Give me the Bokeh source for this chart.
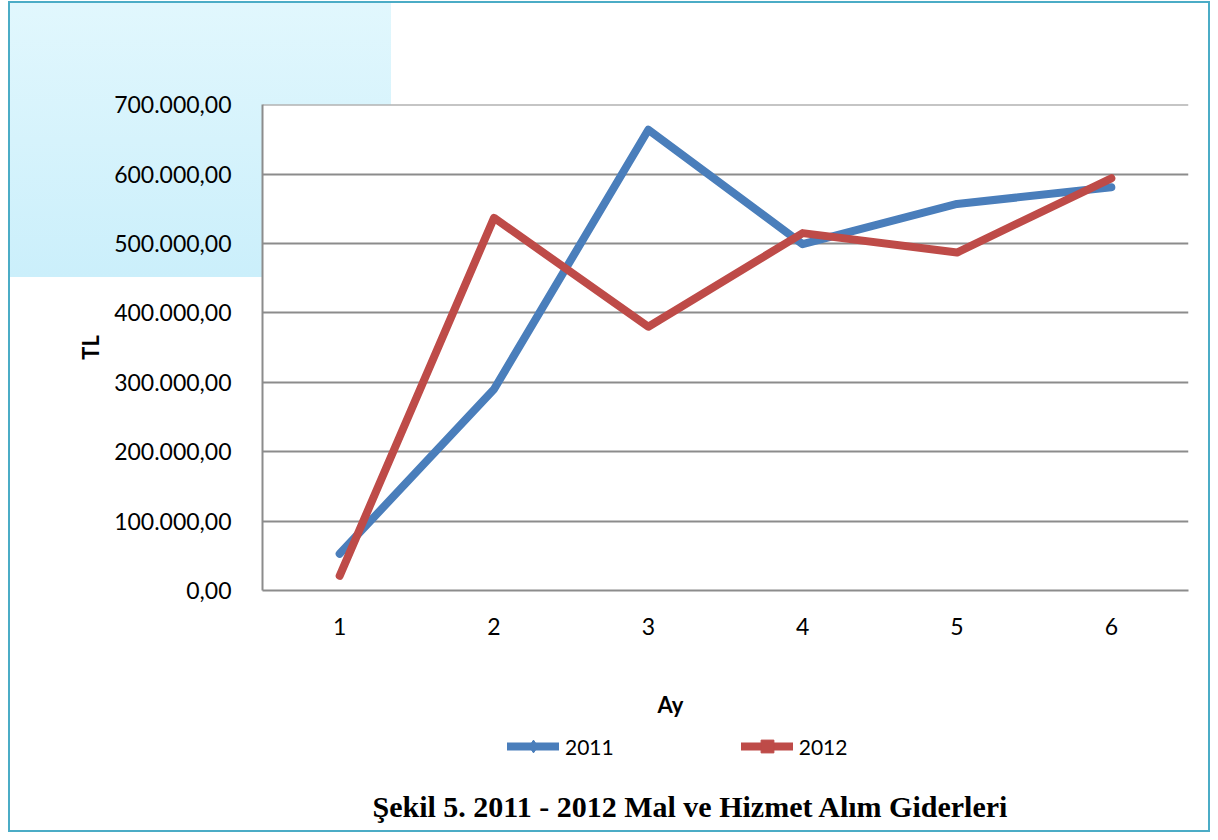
from bokeh.plotting import figure
from bokeh.models import Range1d, FixedTicker, Legend, LegendItem, Label
from bokeh.layouts import column
from bokeh.embed import file_html
from bokeh.resources import INLINE

# ---- data ----
months = [1, 2, 3, 4, 5, 6]
tl_2011 = [53000, 290000, 664000, 499000, 557000, 581000]
tl_2012 = [21000, 537000, 380000, 515000, 487000, 594000]
series_names = ["2011", "2012"]
y_ticks = [0, 100000, 200000, 300000, 400000, 500000, 600000, 700000]
y_tick_labels = ["0,00", "100.000,00", "200.000,00", "300.000,00",
                 "400.000,00", "500.000,00", "600.000,00", "700.000,00"]
x_tick_labels = ["1", "2", "3", "4", "5", "6"]
title_text = "Şekil 5. 2011 - 2012 Mal ve Hizmet Alım Giderleri"
x_label = "Ay"
y_label = "TL"

BLUE = "#4A7EBB"
RED = "#BE4B48"
GRID = "#8C8C8C"
FONT = "Lato"
EDGE = "#4BACC6"

W = 1210
H_TOP, H_BOT = 680, 152
edge = f"linear-gradient({EDGE}, {EDGE})"

# ---------- chart (top part) ----------
p = figure(
    width=W, height=H_TOP,
    output_backend="svg", toolbar_location=None,
    x_range=Range1d(0.5, 6.5), y_range=Range1d(0, 700300),
    min_border_left=262, min_border_right=22, min_border_top=104, min_border_bottom=90,
    border_fill_color=None, background_fill_color="white", outline_line_color=None,
    styles={
        "background-image": ", ".join([edge, edge, edge,
                                       "linear-gradient(to bottom, #E1F7FD, #CBEFFB)"]),
        "background-size": f"{W-8}px 2px, 2px {H_TOP}px, 2px {H_TOP}px, 381px 274px",
        "background-position": f"8px 1px, 8px 1px, {W-2}px 1px, 10px 3px",
        "background-repeat": "no-repeat",
    },
)

p.xaxis.ticker = FixedTicker(ticks=months)
p.xaxis.major_label_overrides = {m: t for m, t in zip(months, x_tick_labels)}
p.yaxis.ticker = FixedTicker(ticks=y_ticks)
p.yaxis.major_label_overrides = {v: t for v, t in zip(y_ticks, y_tick_labels)}
for ax in (p.xaxis, p.yaxis):
    ax.major_tick_line_color = None
    ax.minor_tick_line_color = None
    ax.axis_line_color = GRID
    ax.axis_line_width = 2
    ax.major_label_text_font = FONT
    ax.major_label_text_font_size = "23px"
    ax.major_label_text_color = "black"
    ax.axis_label_text_font = FONT
    ax.axis_label_text_font_size = "22px"
    ax.axis_label_text_font_style = "bold"
    ax.axis_label_text_color = "black"
p.yaxis.axis_label = y_label
p.yaxis.major_label_standoff = 25
p.yaxis.axis_label_standoff = 7
p.xaxis.major_label_standoff = 21

p.xgrid.visible = False
p.ygrid.grid_line_color = GRID
p.ygrid.grid_line_width = 2

p.line(months, tl_2011, line_width=8, line_color=BLUE, line_cap="round", line_join="round")
p.line(months, tl_2012, line_width=8, line_color=RED, line_cap="round", line_join="round")

# ---------- axis title, legend + caption (bottom part) ----------
q = figure(
    width=W, height=H_BOT,
    output_backend="svg", toolbar_location=None,
    x_range=Range1d(0, 1), y_range=Range1d(0, 1),
    x_axis_location=None, y_axis_location=None,
    min_border=0, border_fill_color=None, background_fill_color=None,
    outline_line_color=None,
    styles={
        "background-image": ", ".join([edge, edge, edge]),
        "background-size": f"2px {H_BOT}px, 2px {H_BOT}px, {W-8}px 2px",
        "background-position": f"8px 0px, {W-2}px 0px, 8px {H_BOT-2}px",
        "background-repeat": "no-repeat",
    },
)
q.grid.visible = False
# series drawn outside this strip's view; they only supply legend glyphs
g1 = q.line(months, tl_2011, line_width=8, line_color=BLUE, line_cap="round", line_join="round")
g2 = q.line(months, tl_2012, line_width=8, line_color=RED, line_cap="round", line_join="round")
m1 = q.scatter(months, tl_2011, marker="diamond", size=0, fill_color=BLUE, line_color=BLUE)
m2 = q.scatter(months, tl_2012, marker="square", size=0, fill_color=RED, line_color=RED)

# (this strip's frame is aligned with the chart frame, which starts 262px in)
x_title = Label(
    x=408, y=128, x_units="screen", y_units="screen",
    text=x_label, text_align="center", text_baseline="middle",
    text_font=FONT, text_font_style="bold", text_font_size="22px", text_color="black",
)
q.add_layout(x_title)

legend = Legend(
    items=[LegendItem(label=series_names[0], renderers=[g1, m1]),
           LegendItem(label=series_names[1], renderers=[g2, m2])],
    orientation="horizontal",
    location=(245, 70),
    background_fill_alpha=0, border_line_color=None,
    padding=0, margin=0, spacing=127,
    glyph_width=52, glyph_height=32, label_standoff=6,
    label_text_font=FONT, label_text_font_size="21px", label_text_color="black",
)
q.add_layout(legend)

caption = Label(
    x=110, y=26, x_units="screen", y_units="screen",
    text=title_text, text_align="left", text_baseline="middle",
    text_font="Liberation Serif", text_font_style="bold", text_font_size="30px",
    text_color="black",
)
q.add_layout(caption)

layout = column(p, q, spacing=0)
open("out.html", "w").write(file_html(layout, INLINE))
